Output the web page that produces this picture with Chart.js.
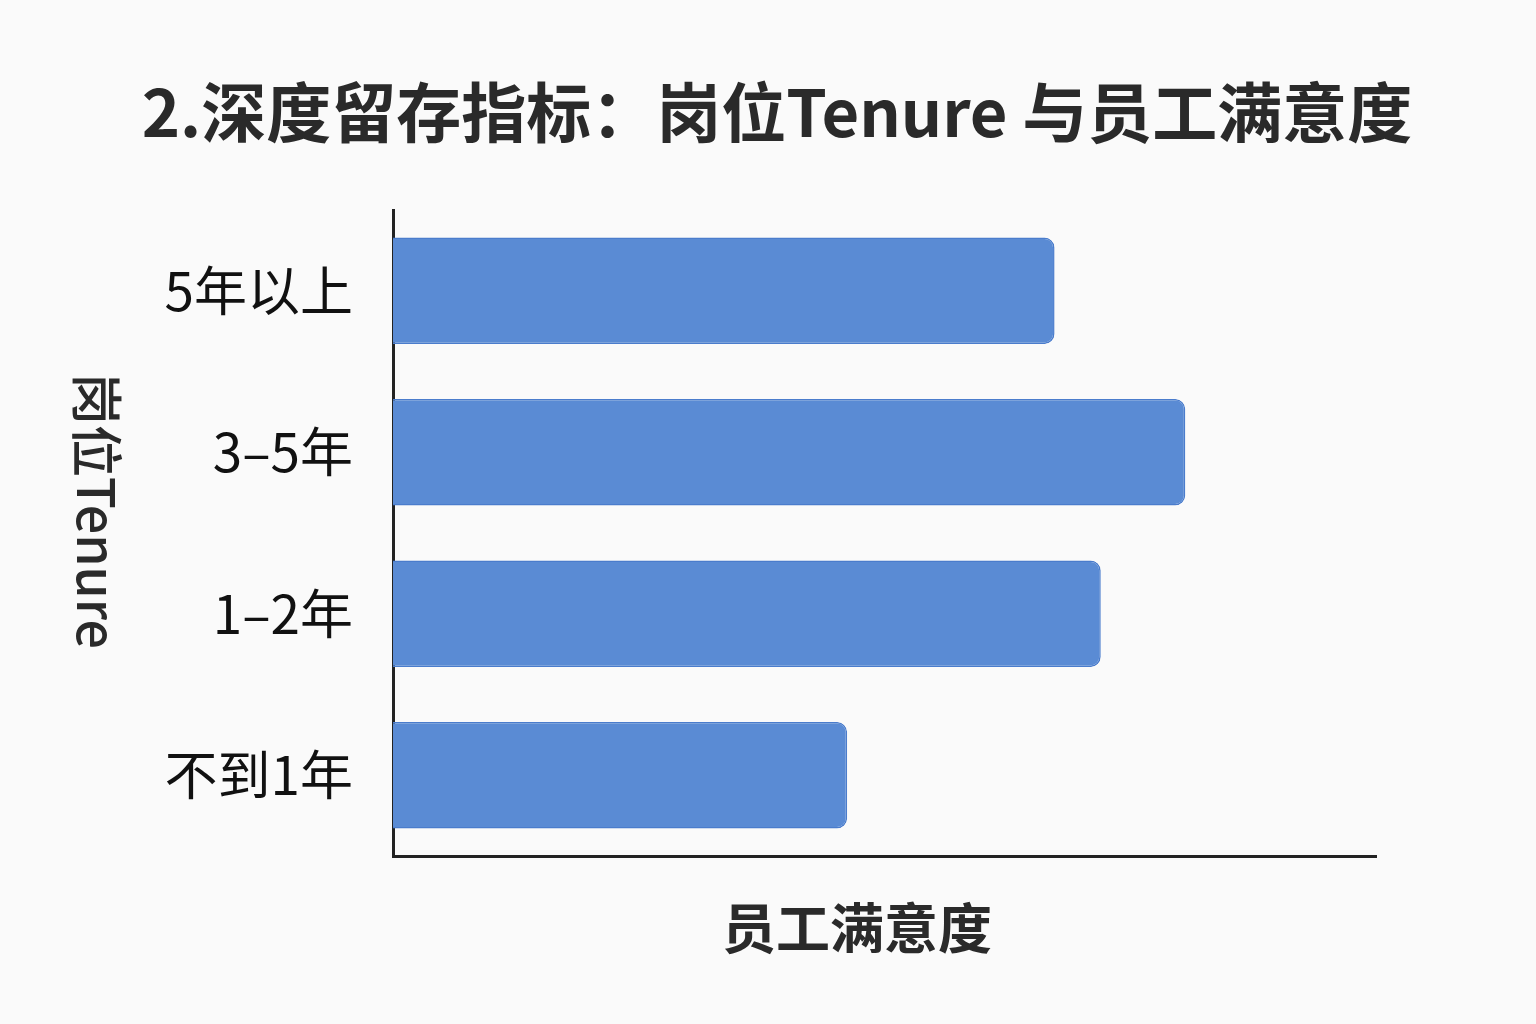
<!DOCTYPE html>
<html>
<head>
<meta charset="utf-8">
<script src="https://cdn.jsdelivr.net/npm/chart.js@4/dist/chart.umd.min.js"></script>
<style>
  html, body { margin: 0; padding: 0; background: #fafafa; }
  canvas { display: block; }
</style>
</head>
<body>
<canvas id="myChart" width="1536" height="1024"></canvas>
<script>
const categories = ['5年以上', '3–5年', '1–2年', '不到1年'];
const satisfaction = [67.3, 80.6, 72.0, 46.2];
const chartTitle = '2.深度留存指标：岗位Tenure 与员工满意度';
const xTitle = '员工满意度';
const yTitle = '岗位Tenure';
const cjk = '"Noto Sans CJK SC", "Noto Sans", sans-serif';

// titles drawn by hand so they sit where the reference has them
const titles = {
    id: 'titles',
    afterDraw(chart) {
        const c = chart.ctx;
        c.save();
        c.fillStyle = '#2a2a2a';
        c.textAlign = 'center';
        c.textBaseline = 'middle';
        c.font = 'bold 65px ' + cjk;
        c.fillText(chartTitle, 777, 112);
        c.font = 'bold 54px ' + cjk;
        c.fillText(xTitle, 857, 928);
        c.translate(97, 511);
        c.rotate(Math.PI / 2);
        c.font = '500 52px ' + cjk;
        c.fillText(yTitle, 0, 0);
        c.restore();
    }
};

const ctx = document.getElementById('myChart').getContext('2d');
const myChart = new Chart(ctx, {
    type: 'bar',
    data: {
        labels: categories,
        datasets: [{
            data: satisfaction,
            backgroundColor: '#5a8bd4',
            borderColor: '#4a7ccc',
            borderWidth: 1.5,
            borderSkipped: 'start',
            borderRadius: 10,
            categoryPercentage: 1,
            barPercentage: 0.66
        }]
    },
    options: {
        indexAxis: 'y',
        responsive: false,
        devicePixelRatio: 1,
        animation: false,
        layout: { padding: { left: 0, right: 160, top: 210, bottom: 0 } },
        scales: {
            x: {
                min: 0,
                max: 100,
                grid: { display: false },
                ticks: { display: false },
                border: { display: true, color: '#222', width: 3 },
                afterFit(scale) { scale.height = 168; }
            },
            y: {
                grid: { display: false, drawTicks: false },
                border: { display: true, color: '#222', width: 3 },
                ticks: {
                    color: '#111',
                    padding: 40,
                    font: { family: cjk, size: 53 }
                },
                afterFit(scale) { scale.width = 393; }
            }
        },
        plugins: {
            legend: { display: false },
            tooltip: { enabled: false },
            title: { display: false }
        }
    },
    plugins: [titles]
});
</script>
</body>
</html>
